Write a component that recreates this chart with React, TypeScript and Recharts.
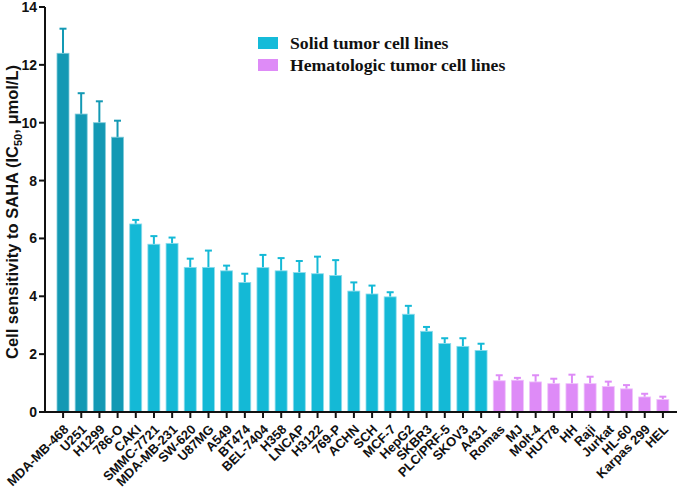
import { BarChart, Bar, XAxis, YAxis } from 'recharts'

const cellLines = [
  'MDA-MB-468', 'U251', 'H1299', '786-O', 'CAKI', 'SMMC-7721', 'MDA-MB-231', 'SW-620',
  'U87MG', 'A549', 'BT474', 'BEL-7404', 'H358', 'LNCAP', 'H3122', '769-P', 'ACHN', 'SCH',
  'MCF-7', 'HepG2', 'SKBR3', 'PLC/PRF-5', 'SKOV3', 'A431', 'Romas', 'MJ', 'Molt-4', 'HUT78',
  'HH', 'Raji', 'Jurkat', 'HL-60', 'Karpas 299', 'HEL',
]

const ic50 = [
  12.4, 10.3, 10.0, 9.5, 6.5, 5.8, 5.83, 5.0, 5.0, 4.88, 4.48, 4.99, 4.88, 4.82, 4.78, 4.72,
  4.18, 4.08, 3.98, 3.38, 2.79, 2.37, 2.27, 2.13, 1.08, 1.1, 1.04, 0.98, 0.98, 0.98, 0.88,
  0.8, 0.52, 0.43,
]

const sd = [
  0.85, 0.72, 0.74, 0.57, 0.14, 0.28, 0.2, 0.3, 0.58, 0.18, 0.3, 0.44, 0.44, 0.4, 0.59, 0.53,
  0.3, 0.29, 0.16, 0.29, 0.15, 0.18, 0.28, 0.23, 0.19, 0.08, 0.23, 0.17, 0.31, 0.24, 0.17,
  0.13, 0.11, 0.1,
]

// 'top' = highlighted solid lines, 'solid', 'heme'
const groups = [
  'top', 'top', 'top', 'top',
  'solid', 'solid', 'solid', 'solid', 'solid', 'solid', 'solid', 'solid', 'solid', 'solid',
  'solid', 'solid', 'solid', 'solid', 'solid', 'solid', 'solid', 'solid', 'solid', 'solid',
  'heme', 'heme', 'heme', 'heme', 'heme', 'heme', 'heme', 'heme', 'heme', 'heme',
]

const yTicks = [0, 2, 4, 6, 8, 10, 12, 14]

const legendItems = [
  { label: 'Solid tumor cell lines', color: '#15bbd9' },
  { label: 'Hematologic tumor cell lines', color: '#de8bf7' },
]

const FILL: Record<string, string> = { top: '#1399b4', solid: '#14b9d6', heme: '#de8bf7' }
const EDGE: Record<string, string> = { top: '#7fcbda', solid: '#8fdcec', heme: '#efc3fb' }

const data = cellLines.map((name, i) => ({ name, value: ic50[i], err: sd[i], group: groups[i] }))

const font = 'Arial, "Liberation Sans", sans-serif'

function BarWithError(props: any) {
  const { x, y, width, height, payload } = props
  const fill = FILL[payload.group]
  const errPx = payload.value ? (payload.err * height) / payload.value : 0
  const cx = x + width / 2
  return (
    <g>
      <line x1={cx} x2={cx} y1={y} y2={y - errPx} stroke={fill} strokeWidth={2} />
      <line x1={cx - 3.5} x2={cx + 3.5} y1={y - errPx} y2={y - errPx} stroke={fill} strokeWidth={2} />
      <rect x={x} y={y} width={width} height={height} fill={fill} stroke={EDGE[payload.group]} strokeWidth={0.8} />
    </g>
  )
}

function XTick({ x, y, payload }: any) {
  const ax = x + 3
  const ay = y + 7
  return (
    <text
      x={ax}
      y={ay}
      transform={`rotate(-45, ${ax}, ${ay})`}
      textAnchor="end"
      dominantBaseline="central"
      fontFamily={font}
      fontWeight="bold"
      fontSize={13}
      fill="#111"
    >
      {payload.value}
    </text>
  )
}

function YLabel() {
  return (
    <text
      x={0}
      y={0}
      transform="translate(18, 212) rotate(-90)"
      textAnchor="middle"
      fontFamily={font}
      fontWeight="bold"
      fontSize={16.5}
      fill="#111"
    >
      Cell sensitivity to SAHA (IC
      <tspan fontSize={11} dy={4}>50</tspan>
      <tspan dy={-4}>, μmol/L)</tspan>
    </text>
  )
}

function LegendBox() {
  return (
    <div
      style={{
        position: 'absolute',
        left: 258,
        top: 32,
        fontFamily: '"Liberation Serif", "Times New Roman", serif',
        fontWeight: 'bold',
        fontSize: 17.7,
      }}
    >
      {legendItems.map((it) => (
        <div key={it.label} style={{ display: 'flex', alignItems: 'center', height: 22 }}>
          <span style={{ width: 20, height: 12, background: it.color, marginRight: 12, display: 'inline-block' }} />
          <span style={{ color: '#111' }}>{it.label}</span>
        </div>
      ))}
    </div>
  )
}

export default function App() {
  return (
    <div style={{ position: 'absolute', left: 0, top: 0, width: 677, height: 488, background: '#fff' }}>
      <BarChart
        width={677}
        height={488}
        data={data}
        margin={{ top: 7, right: 0, bottom: 0, left: 0 }}
        barSize={12}
        style={{ overflow: 'visible' }}
      >
        <XAxis
          dataKey="name"
          interval={0}
          height={76}
          padding={{ left: 9, right: 5 }}
          tick={<XTick />}
          tickSize={6}
          axisLine={{ stroke: '#111', strokeWidth: 2 }}
          tickLine={{ stroke: '#111', strokeWidth: 2 }}
        />
        <YAxis
          width={45}
          domain={[0, 14]}
          ticks={yTicks}
          interval={0}
          tickSize={6}
          axisLine={{ stroke: '#111', strokeWidth: 2 }}
          tickLine={{ stroke: '#111', strokeWidth: 2 }}
          tick={{ fontFamily: font, fontWeight: 'bold', fontSize: 14, fill: '#111' }}
          label={<YLabel />}
        />
        <Bar dataKey="value" isAnimationActive={false} shape={<BarWithError />} />
      </BarChart>
      <LegendBox />
    </div>
  )
}
